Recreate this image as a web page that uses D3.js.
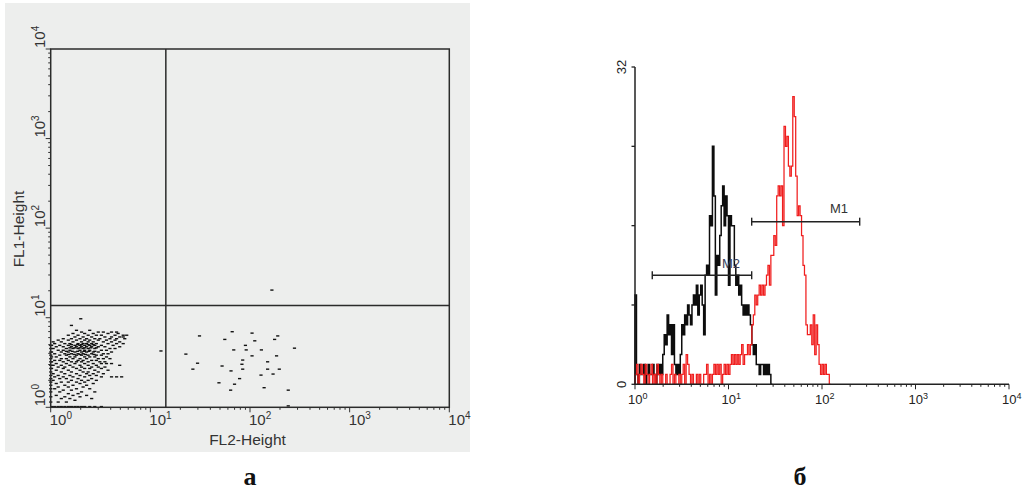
<!DOCTYPE html>
<html>
<head>
<meta charset="utf-8">
<script src="https://cdn.jsdelivr.net/npm/d3@7"></script>
<style>
  body { margin: 0; background: #fff; }
  svg { display: block; }
</style>
</head>
<body>
<svg id="fig" width="1031" height="491"></svg>
<script>
// List-mode values are log channels: 256 channels per decade over 4 decades.
const CH_PER_DECADE = 256;
const decadeValues = [1, 10, 100, 1000, 10000];
const decadeExponents = ["0", "1", "2", "3", "4"];

// ---- Dot plot (FL2 vs FL1) ----
// Main population, one row per FL1 channel: [FL1 channel, [FL2 channels]]
const clusterRows = [
  [253, [77]],
  [234, [53]],
  [220, [66, 100]],
  [215, [79, 122, 135, 156, 169]],
  [211, [57, 87, 109, 147, 173]],
  [206, [45, 70, 96, 117, 130, 165, 186, 195]],
  [201, [62, 83, 105, 139, 156, 177, 186]],
  [196, [32, 53, 75, 92, 113, 126, 152, 169, 190]],
  [192, [19, 45, 66, 87, 100, 122, 143, 165]],
  [187, [6, 27, 57, 79, 96, 109, 135, 156, 177]],
  [182, [10, 36, 49, 70, 83, 92, 105, 117, 147, 169, 186]],
  [179, [53, 69, 79, 96, 109]],
  [177, [2, 23, 45, 62, 75, 87, 100, 113, 130, 160]],
  [173, [14, 32, 53, 66, 79, 92, 105, 122, 139, 177]],
  [170, [49, 62, 75, 87, 103, 117]],
  [168, [6, 40, 57, 70, 83, 96, 113, 152, 165]],
  [163, [19, 32, 49, 75, 87, 100, 130, 143]],
  [160, [40, 55, 69, 86, 98, 113]],
  [158, [2, 27, 45, 62, 79, 92, 109, 122, 156]],
  [153, [10, 36, 53, 70, 83, 105, 135, 147]],
  [151, [46, 60, 75, 89, 111]],
  [149, [23, 40, 66, 79, 96, 117, 130]],
  [144, [2, 14, 49, 62, 87, 100, 113, 143]],
  [139, [27, 40, 57, 75, 92, 122, 135, 152]],
  [134, [10, 23, 45, 70, 83, 105, 117]],
  [130, [2, 32, 53, 66, 79, 96, 126, 139]],
  [125, [14, 40, 62, 87, 109, 130, 143, 156]],
  [120, [6, 27, 49, 75, 96, 117, 177]],
  [115, [19, 36, 57, 79, 105, 122, 139]],
  [111, [2, 32, 66, 87, 100, 130]],
  [106, [14, 45, 75, 113, 147]],
  [101, [27, 53, 83, 96, 122]],
  [96, [6, 36, 66, 92, 109, 135]],
  [91, [19, 49, 75, 100, 117]],
  [87, [10, 32, 57, 87, 130, 156, 169, 182]],
  [82, [23, 40, 70, 105]],
  [77, [6, 53, 79, 96, 117]],
  [72, [27, 45, 66, 87]],
  [68, [14, 75, 109]],
  [63, [36, 57, 92]],
  [58, [19, 45, 83]],
  [53, [10, 66, 100]],
  [49, [32, 53]],
  [44, [23, 79, 113]],
  [39, [45, 70]],
  [34, [14, 57, 92]],
  [30, [36, 75]],
  [25, [27, 49, 105]],
  [20, [62]],
  [15, [19, 40]],
  [2, [2, 10, 19, 27, 36, 45, 53, 62, 70, 79, 87, 100, 113, 130]]
];
// Events piled on the FL2 floor (FL2 channel 0), FL1 channels
const floorFL1 = [177, 168, 158, 149, 139, 130, 120, 111, 101, 91, 82, 72, 63, 53, 44, 30, 15];
// Scattered FL2-positive events
const scatterFL2 = [347, 382, 377, 365, 432, 440, 447, 466, 470, 463, 472, 462, 485, 491, 493, 500, 502, 517,
                    524, 517, 541, 540, 548, 557, 557, 571, 575, 583, 580, 587, 610, 626, 610, 568, 283, 493];
const scatterFL1 = [152, 204, 126, 109, 70, 118, 194, 216, 164, 104, 66, 49, 82, 123, 109, 177, 164, 212,
                    190, 147, 164, 92, 56, 130, 109, 95, 194, 204, 147, 109, 49, 169, 4, 335, 161, 135];
// Quadrant cursor position
const quadFL2 = 14.3;
const quadFL1 = 13.7;
const dotAxisTitles = ["FL2-Height", "FL1-Height"];

// ---- Histogram (256 channels over 4 decades) ----
const controlCounts = [
  9,
  1, 0, 2, 1, 1, 2, 0, 1, 2, 1, 1, 2, 1, 0, 2, 1, 2, 1, 3,
  5, 4, 7, 5, 6, 3, 6, 2,
  1, 2, 1, 3,
  6, 5, 7, 6, 8, 7, 6, 8,
  9, 8, 10, 7, 9, 10, 8,
  5,
  11, 12, 11,
  17, 16, 24, 19,
  9, 13, 12,
  15,
  18, 20, 16, 19, 17,
  10,
  17, 16, 16,
  12, 10, 11,
  9, 10, 8, 7,
  8, 7, 8, 7, 6,
  4, 3, 4, 2,
  2, 1, 2, 2, 1, 2, 1, 2, 1,
  0
];
const stainedCounts = [
  1, 2, 0, 1, 2, 1, 0, 2, 1, 0, 1, 2, 0, 1, 0, 2, 1, 0, 1, 0,
  0, 1, 0, 0, 1, 2, 0, 1, 0, 0, 1, 0, 1, 2, 0,
  3, 2, 1,
  0, 1, 0, 0, 1, 0, 1, 0, 0, 1, 1, 2, 0, 1, 0, 1, 2, 1,
  2, 1, 2, 0, 1, 2, 1, 2, 1, 2, 3,
  2, 3, 2, 3, 2, 3, 4, 2, 3, 3, 4, 3, 4,
  6, 7, 9, 8,
  9, 10, 9, 10, 9, 10, 11,
  12, 10, 13, 13, 15, 14,
  19, 20, 19, 20,
  16,
  26, 24, 25,
  22, 21, 22,
  29, 27, 21,
  17, 18, 17,
  15, 12, 11,
  6, 5, 5, 6,
  4, 7, 3, 6, 4,
  2, 1, 2, 1, 2, 1, 1, 0
];
const HIST_CHANNELS = 256;
const countTicks = [0, 8, 16, 24, 32];
const countTickLabels = ["0", "32"];
const markerNames = ["M1", "M2"];
const markerFrom = [17.7, 1.53];
const markerTo = [253, 17.7];
const markerLevel = [16.4, 11];

const panelLabels = ["а", "б"];

// ---------------------------------------------------------------------------
const svg = d3.select("#fig");
const sans = "'Liberation Sans', Arial, sans-serif";
const chToValue = ch => Math.pow(10, ch / CH_PER_DECADE);

// ===== Panel a: dot plot =====
const xL = d3.scaleLog().domain([1, 1e4]).range([50.7, 449.3]);
const yL = d3.scaleLog().domain([1, 1e4]).range([407.3, 49]);

svg.append("rect").attr("x", 5).attr("y", 3).attr("width", 465).attr("height", 449)
  .attr("fill", "#edeeed");

const gA = svg.append("g");

// minor/major ticks
const logTicks = xL.ticks();
gA.append("g").selectAll("line").data(logTicks).join("line")
  .attr("x1", d => xL(d)).attr("x2", d => xL(d))
  .attr("y1", yL(1)).attr("y2", d => yL(1) + (decadeValues.includes(d) ? 5 : 2.5))
  .attr("stroke", "#333").attr("stroke-width", 1);
gA.append("g").selectAll("line").data(logTicks).join("line")
  .attr("y1", d => yL(d)).attr("y2", d => yL(d))
  .attr("x1", xL(1)).attr("x2", d => xL(1) - (decadeValues.includes(d) ? 5 : 2.5))
  .attr("stroke", "#333").attr("stroke-width", 1);

// dots
const dots = [];
clusterRows.forEach(([fl1, list]) => list.forEach(fl2 => dots.push([chToValue(fl2), chToValue(fl1)])));
floorFL1.forEach(fl1 => dots.push([1, chToValue(fl1)]));
scatterFL2.forEach((fl2, i) => dots.push([chToValue(fl2), chToValue(scatterFL1[i])]));

gA.append("g").selectAll("rect").data(dots).join("rect")
  .attr("x", d => xL(d[0]) - 1.5).attr("y", d => yL(d[1]) - 0.7)
  .attr("width", 3.2).attr("height", 1.4).attr("fill", "#111");

// quadrant cursor
gA.append("line").attr("x1", xL(quadFL2)).attr("x2", xL(quadFL2))
  .attr("y1", yL(1)).attr("y2", yL(1e4)).attr("stroke", "#2b2b2b").attr("stroke-width", 1.5);
gA.append("line").attr("x1", xL(1)).attr("x2", xL(1e4))
  .attr("y1", yL(quadFL1)).attr("y2", yL(quadFL1)).attr("stroke", "#2b2b2b").attr("stroke-width", 1.5);

// frame
gA.append("rect").attr("x", xL(1)).attr("y", yL(1e4))
  .attr("width", xL(1e4) - xL(1)).attr("height", yL(1) - yL(1e4))
  .attr("fill", "none").attr("stroke", "#2b2b2b").attr("stroke-width", 1.5);

// decade labels, bottom
const xLab = gA.append("g").selectAll("text").data(decadeValues).join("text")
  .attr("x", d => xL(d) - 1).attr("y", 425)
  .attr("font-family", sans).attr("font-size", 15).attr("fill", "#333");
xLab.append("tspan").text("10");
xLab.append("tspan").attr("dy", -6).attr("font-size", 10).text((d, i) => decadeExponents[i]);

// decade labels, left (rotated)
const yLab = gA.append("g").selectAll("text").data(decadeValues).join("text")
  .attr("transform", d => `translate(45,${yL(d) - 1}) rotate(-90)`)
  .attr("font-family", sans).attr("font-size", 15).attr("fill", "#333");
yLab.append("tspan").text("10");
yLab.append("tspan").attr("dy", -6).attr("font-size", 10).text((d, i) => decadeExponents[i]);

gA.append("text").attr("x", 247.5).attr("y", 445).attr("text-anchor", "middle")
  .attr("font-family", sans).attr("font-size", 15.5).attr("fill", "#333").text(dotAxisTitles[0]);
gA.append("text").attr("transform", "translate(24,229) rotate(-90)").attr("text-anchor", "middle")
  .attr("font-family", sans).attr("font-size", 15.5).attr("fill", "#333").text(dotAxisTitles[1]);

// ===== Panel b: histogram overlay =====
const xR = d3.scaleLog().domain([1, 1e4]).range([635, 1009]);
const yR = d3.scaleLinear().domain([0, 32]).range([384.3, 67]);
const gB = svg.append("g");

const channelEdge = i => Math.pow(10, i * 4 / HIST_CHANNELS);
const stepLine = d3.line().curve(d3.curveStepAfter).x(d => xR(d[0])).y(d => yR(d[1]));
function histPoints(counts) {
  const pts = [[channelEdge(0), 0]];
  counts.forEach((c, i) => pts.push([channelEdge(i), c]));
  pts.push([channelEdge(counts.length), 0]);
  return pts;
}
gB.append("path").attr("d", stepLine(histPoints(controlCounts)))
  .attr("fill", "none").attr("stroke", "#0d0d0d").attr("stroke-width", 1.5);
gB.append("path").attr("d", stepLine(histPoints(stainedCounts)))
  .attr("fill", "none").attr("stroke", "#f01e1e").attr("stroke-width", 1.25);

// axes
gB.append("line").attr("x1", xR(1)).attr("x2", xR(1)).attr("y1", yR(0)).attr("y2", yR(32))
  .attr("stroke", "#222").attr("stroke-width", 1.5);
gB.append("line").attr("x1", xR(1)).attr("x2", xR(1e4)).attr("y1", yR(0)).attr("y2", yR(0))
  .attr("stroke", "#222").attr("stroke-width", 1.5);
gB.append("g").selectAll("line").data(countTicks).join("line")
  .attr("x1", xR(1)).attr("x2", xR(1) - 3.5).attr("y1", d => yR(d)).attr("y2", d => yR(d))
  .attr("stroke", "#222").attr("stroke-width", 1.3);
gB.append("g").selectAll("line").data(xR.ticks()).join("line")
  .attr("x1", d => xR(d)).attr("x2", d => xR(d))
  .attr("y1", yR(0)).attr("y2", d => yR(0) + (decadeValues.includes(d) ? 5 : 2.5))
  .attr("stroke", "#222").attr("stroke-width", 1);

const xRLab = gB.append("g").selectAll("text").data(decadeValues).join("text")
  .attr("x", d => xR(d) - 7).attr("y", 404)
  .attr("font-family", sans).attr("font-size", 13).attr("fill", "#222");
xRLab.append("tspan").text("10");
xRLab.append("tspan").attr("dy", -5).attr("font-size", 9).text((d, i) => decadeExponents[i]);

gB.append("g").selectAll("text").data([0, 32]).join("text")
  .attr("transform", d => `translate(626,${yR(d)}) rotate(-90)`)
  .attr("text-anchor", "middle").attr("font-family", sans).attr("font-size", 13).attr("fill", "#222")
  .text((d, i) => countTickLabels[i]);

// region markers
markerNames.forEach((name, i) => {
  const y = yR(markerLevel[i]);
  const x1 = xR(markerFrom[i]), x2 = xR(markerTo[i]);
  const g = gB.append("g").attr("stroke", "#222").attr("stroke-width", 1.4);
  g.append("line").attr("x1", x1).attr("x2", x2).attr("y1", y).attr("y2", y);
  g.append("line").attr("x1", x1).attr("x2", x1).attr("y1", y - 4).attr("y2", y + 4);
  g.append("line").attr("x1", x2).attr("x2", x2).attr("y1", y - 4).attr("y2", y + 4);
});
gB.append("text").attr("x", 830).attr("y", 213).attr("font-family", sans).attr("font-size", 13)
  .attr("fill", "#333").text(markerNames[0]);
gB.append("text").attr("x", 722).attr("y", 268).attr("font-family", sans).attr("font-size", 13)
  .attr("fill", "#3a3f5a").text(markerNames[1]);

// ===== Panel letters =====
svg.append("g").selectAll("text").data(panelLabels).join("text")
  .attr("x", (d, i) => [250, 800][i]).attr("y", 485).attr("text-anchor", "middle")
  .attr("font-family", "'Liberation Serif', 'Times New Roman', serif").attr("font-weight", "bold")
  .attr("font-size", 26).attr("fill", "#111").text(d => d);
</script>
</body>
</html>
